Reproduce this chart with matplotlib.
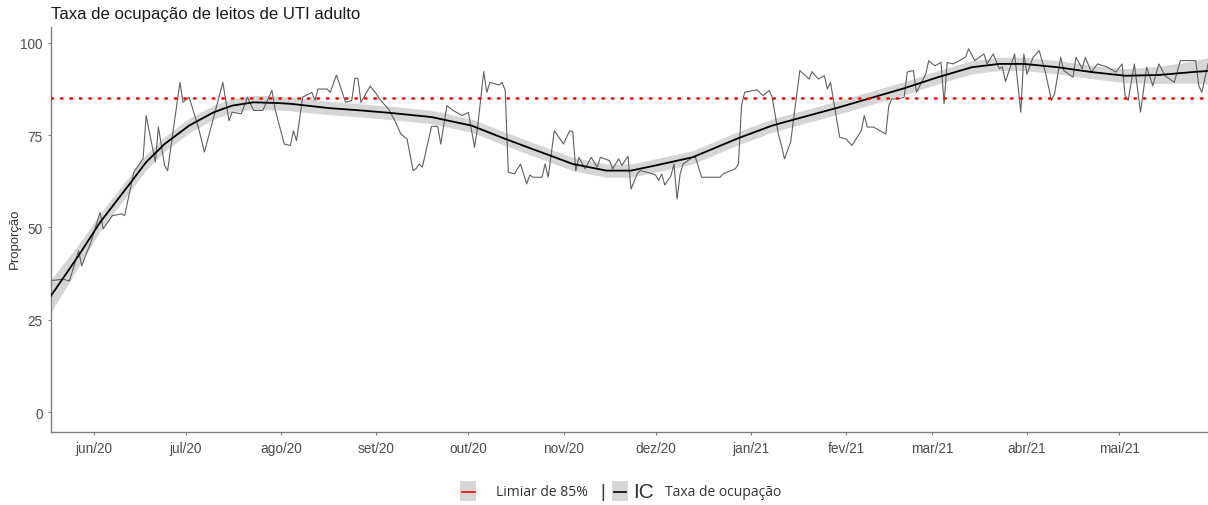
import numpy as np
import matplotlib
matplotlib.use('Agg')
import matplotlib.pyplot as plt
import matplotlib.dates as mdates
from matplotlib.patches import Rectangle
from matplotlib.lines import Line2D

# dias contados a partir de 18/05/2020
inicio = np.datetime64('2020-05-18')

# taxa diaria de ocupacao (%)
dias = [0, 4, 6, 9, 10, 13, 16, 17, 20, 23, 24, 27, 30, 31, 34, 35, 37, 38, 42, 43,
        45, 48, 50, 56, 58, 59, 62, 64, 66, 69, 72, 73, 76, 78, 79, 80, 82, 85, 86, 87,
        90, 91, 93, 96, 98, 99, 100, 101, 104, 106, 107, 110, 112, 114, 116, 118, 119, 120, 121, 124,
        126, 127, 129, 131, 134, 136, 138, 139, 141, 142, 143, 146, 147, 148, 149, 151, 153, 155, 156, 157,
        160, 161, 162, 164, 167, 169, 170, 171, 172, 174, 176, 178, 179, 182, 183, 185, 186, 188, 189, 191,
        192, 195, 197, 198, 199, 200, 202, 203, 204, 205, 206, 209, 210, 212, 218, 219, 223, 224, 225, 226,
        230, 232, 234, 235, 237, 238, 239, 241, 244, 247, 248, 250, 252, 253, 254, 257, 259, 261, 264, 265,
        266, 268, 272, 273, 274, 276, 278, 279, 281, 282, 285, 286, 288, 290, 291, 292, 294, 296, 298, 299,
        301, 304, 305, 307, 309, 310, 311, 314, 316, 317, 318, 320, 322, 324, 326, 327, 329, 330, 333, 334,
        336, 337, 339, 341, 344, 347, 349, 350, 351, 353, 355, 357, 359, 361, 363, 366, 368, 371, 373, 374,
        375, 377]
taxa = [35.6, 36.0, 35.5, 43.7, 39.6, 46.0, 54.1, 49.6, 53.2, 53.7, 53.2, 65.0, 68.6, 80.3, 67.7, 77.2, 66.8, 65.4, 89.3, 83.9,
        85.3, 77.2, 70.4, 89.3, 78.9, 81.2, 80.8, 85.3, 81.7, 81.7, 87.1, 82.1, 72.6, 72.2, 76.2, 73.5, 85.3, 86.6, 84.4, 87.5,
        87.5, 86.6, 91.3, 83.9, 84.4, 90.4, 90.4, 83.9, 88.3, 86.2, 84.8, 82.1, 79.0, 75.3, 74.0, 65.4, 66.0, 67.2, 66.3, 77.4,
        77.4, 72.6, 83.0, 81.7, 80.3, 81.2, 71.7, 77.2, 92.2, 86.6, 89.3, 88.6, 89.3, 87.1, 65.0, 64.5, 67.2, 61.8, 64.2, 63.6,
        63.6, 67.2, 63.6, 76.2, 72.6, 76.2, 76.0, 65.4, 69.0, 65.9, 69.0, 66.3, 69.0, 68.1, 65.9, 68.6, 66.8, 69.3, 60.4, 64.5,
        65.4, 64.8, 64.2, 62.7, 64.5, 61.5, 64.0, 67.2, 57.7, 64.5, 67.2, 69.0, 69.0, 63.6, 63.6, 64.5, 65.9, 67.2, 83.0, 86.6,
        87.3, 85.7, 87.1, 85.3, 75.3, 72.2, 68.6, 73.1, 92.5, 90.2, 92.2, 90.2, 91.1, 87.5, 89.3, 74.4, 74.0, 72.2, 76.2, 80.3,
        77.2, 77.2, 75.3, 83.0, 84.8, 84.8, 85.3, 92.1, 92.5, 86.6, 91.5, 95.2, 93.8, 94.7, 83.5, 94.7, 94.3, 95.2, 96.1, 98.4,
        95.2, 97.0, 94.3, 97.0, 93.0, 93.5, 89.5, 97.0, 81.2, 97.0, 91.5, 96.1, 97.9, 92.1, 84.4, 86.2, 96.1, 92.5, 90.7, 96.1,
        93.0, 96.1, 92.1, 94.3, 93.5, 92.1, 94.3, 85.7, 84.4, 94.3, 81.2, 93.4, 88.4, 94.3, 91.1, 89.3, 95.2, 95.2, 95.2, 88.4,
        86.6, 94.3]

# curva suavizada (loess) e meia largura do IC
dias_suave = [0, 9, 16, 26, 31, 37, 45, 53, 59, 66, 74, 78, 91, 101, 111, 124, 137, 148, 157, 160,
              170, 181, 189, 197, 209, 224, 235, 238, 257, 278, 289, 300, 309, 317, 328, 339, 350, 361, 372, 377]
suave = [31.5, 42.4, 51.4, 62.2, 67.7, 72.6, 77.6, 81.2, 83.0, 83.9, 83.7, 83.5, 82.3, 81.7, 81.0, 79.9, 77.6, 74.0, 71.2, 70.3,
         67.2, 65.4, 65.4, 66.8, 69.0, 74.2, 77.6, 78.3, 82.6, 87.7, 90.7, 93.4, 94.3, 94.3, 93.4, 92.1, 91.1, 91.3, 92.1, 92.4]
ic = [4.5, 3.0, 2.4, 2.2, 2.1, 2.0, 2.0, 1.9, 1.9, 1.9, 1.9, 1.9, 1.8, 1.8, 1.8, 1.8, 1.8, 1.8, 1.8, 1.8,
      1.8, 1.8, 1.8, 1.8, 1.8, 1.8, 1.8, 1.8, 1.8, 1.8, 1.8, 1.8, 1.8, 1.8, 1.8, 1.8, 1.9, 2.3, 3.0, 3.6]

limiar = 85
meses = ['jan', 'fev', 'mar', 'abr', 'mai', 'jun', 'jul', 'ago', 'set', 'out', 'nov', 'dez']
yticks = [0, 25, 50, 75, 100]

datas = inicio + np.array(dias)
datas_suave = inicio + np.array(dias_suave)
suave = np.array(suave)
ic = np.array(ic)

W, H = 1208, 506
fig = plt.figure(figsize=(W / 100, H / 100), dpi=100)
ax = fig.add_axes([51 / W, 73 / H, 1157 / W, 405 / H])

cinza = '#4d4d4d'

ax.fill_between(datas_suave, suave - ic, suave + ic, color='#d6d6d6', lw=0, zorder=1)
ax.plot(datas, taxa, color='#606060', lw=0.8, zorder=2)
ax.plot(datas_suave, suave, color='black', lw=1.3, zorder=3)
ax.axhline(limiar, color='red', lw=1.9, linestyle=(0, (0.5, 3.1)), dash_capstyle='round', zorder=4)

ax.set_xlim(datas[0], datas[-1])
ax.set_ylim(-5.4, 104.3)
ax.set_yticks(yticks)

ax.xaxis.set_major_locator(mdates.MonthLocator())
ax.xaxis.set_major_formatter(plt.FuncFormatter(
    lambda x, pos: meses[mdates.num2date(x).month - 1] + '/' + mdates.num2date(x).strftime('%y')))

for s in ['top', 'right']:
    ax.spines[s].set_visible(False)
for s in ['left', 'bottom']:
    ax.spines[s].set_color('#7f7f7f')
    ax.spines[s].set_linewidth(1.0)
ax.tick_params(colors='#7f7f7f', length=2.5, width=0.8, labelcolor=cinza,
               labelsize=9.8, labelfontfamily='Liberation Sans')
ax.tick_params(axis='x', pad=4)

ax.set_ylabel('Proporção', fontsize=9.5, color='#333333', family='Liberation Sans', va='center')
ax.yaxis.set_label_coords(-0.031, 0.48)
fig.text(51 / W, 1 - 15 / H, 'Taxa de ocupação de leitos de UTI adulto', fontsize=12.1,
         family='Liberation Sans', color='#1a1a1a', va='center', ha='left')

# legenda montada manualmente
def fx(x):
    return x / W

def fy(y):
    return 1 - y / H

fig.patches.append(Rectangle((fx(460), fy(502)), 16 / W, 20 / H, transform=fig.transFigure,
                             facecolor='#d6d6d6', edgecolor='none'))
fig.lines.append(Line2D([fx(462), fx(475)], [fy(492.5), fy(492.5)], transform=fig.transFigure,
                        color='red', lw=1.2))
fig.text(fx(496), fy(493), 'Limiar de 85%', fontsize=10, family='Open Sans', color='#333333',
         va='center', ha='left')
fig.text(fx(603), fy(493), '|', fontsize=13, family='Liberation Sans', color='#333333',
         va='center', ha='center')
fig.patches.append(Rectangle((fx(612), fy(502)), 16 / W, 20 / H, transform=fig.transFigure,
                             facecolor='#d6d6d6', edgecolor='none'))
fig.lines.append(Line2D([fx(614), fx(626)], [fy(492.5), fy(492.5)], transform=fig.transFigure,
                        color='black', lw=1.2))
fig.text(fx(633), fy(493), 'IC', fontsize=15, family='Liberation Sans', color='#333333',
         va='center', ha='left')
fig.text(fx(665), fy(493), 'Taxa de ocupação', fontsize=10, family='Open Sans', color='#333333',
         va='center', ha='left')

fig.savefig('out.png', dpi=100)
